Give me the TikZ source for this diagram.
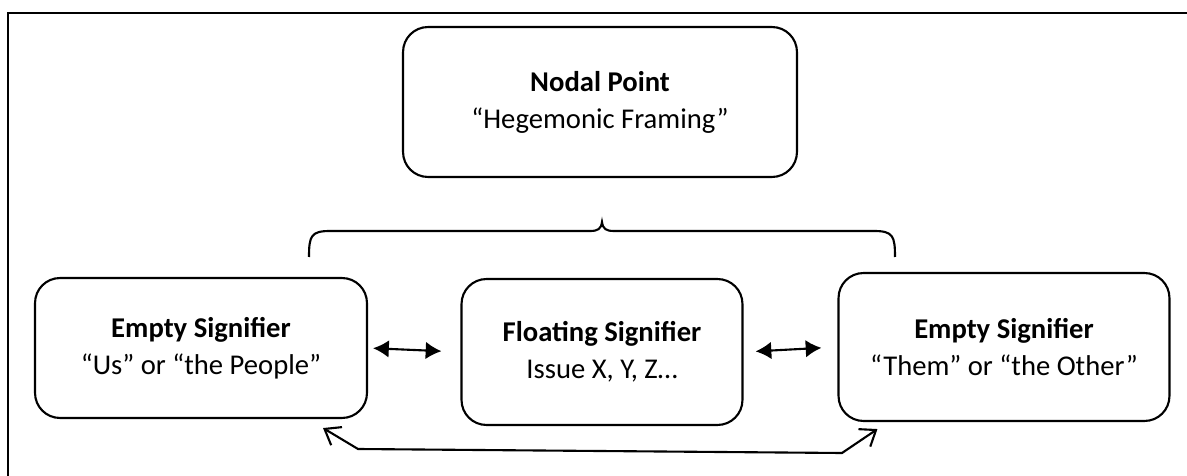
\documentclass[tikz,border=0pt]{standalone}
\usepackage{fontspec}
\setmainfont{Carlito}
\usetikzlibrary{arrows.meta,calc}

\tikzset{
  sigbox/.style={draw,line width=1.2pt,rounded corners=0.5cm,align=center,
    font=\fontsize{16.3}{21}\selectfont},
  link/.style={line width=1.2pt,{Latex[length=9pt,width=10pt]}-{Latex[length=9pt,width=10pt]}},
  backlink/.style={line width=1.2pt,{Straight Barb[length=8pt,width=12pt]}-{Straight Barb[length=8pt,width=12pt]}}
}

\begin{document}
\begin{tikzpicture}[x=0.02cm,y=-0.02cm]
            \useasboundingbox (0,0) rectangle (1187,476);
            \draw[line width=1.5pt] (1187,13) -- (8,13) -- (8,476);

            \node[sigbox,minimum width=7.88cm,minimum height=3cm] (nodal) at (600,102)
              {\textbf{Nodal Point}\\“Hegemonic Framing”};
            \node[sigbox,minimum width=6.64cm,minimum height=2.8cm] (us) at (201,348)
              {\textbf{Empty Signifier}\\“Us” or “the People”};
            \node[sigbox,minimum width=5.62cm,minimum height=2.92cm] (float) at (602,352)
              {\textbf{Floating Signifier}\\Issue X, Y, Z…};
            \node[sigbox,minimum width=6.62cm,minimum height=2.96cm] (them) at (1004,347)
              {\textbf{Empty Signifier}\\“Them” or “the Other”};

            \coordinate (bl) at (309,257);
            \coordinate (br) at (895,257);
            \coordinate (bm) at (602,222);
            \draw[line width=1.2pt] (bl) .. controls (309,236) and (311,231) .. (330,231)
              -- (590,231) .. controls (598,231) and (601,229) .. (bm)
              .. controls (603,229) and (606,231) .. (614,231)
              -- (874,231) .. controls (893,231) and (895,236) .. (br);

            \draw[link,shorten <=0.1cm,shorten >=0.38cm] (us.east) -- (float.west);
            \draw[link,shorten <=0.24cm,shorten >=0.32cm] (float.east) -- (them.west);

            \coordinate (ul) at (358,449);
            \coordinate (ur) at (842,453);
            \draw[backlink] ($(us.south east)+(-45,9)$) -- (ul) -- (ur) -- ($(them.south west)+(40,7)$);
        \end{tikzpicture}
\end{document}
